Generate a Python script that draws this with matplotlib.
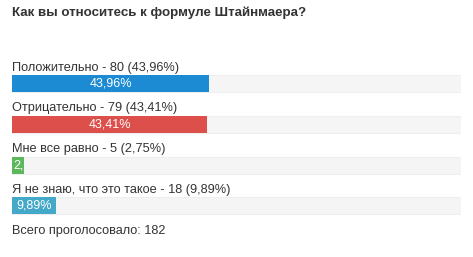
import matplotlib
matplotlib.use("Agg")
import matplotlib.pyplot as plt
from matplotlib.transforms import offset_copy

plt.rcParams['font.family'] = ['Liberation Sans', 'DejaVu Sans']

title = "Как вы относитесь к формуле Штайнмаера?"
options = ["Положительно", "Отрицательно", "Мне все равно", "Я не знаю, что это такое"]
votes = [80, 79, 5, 18]
percents = [43.96, 43.41, 2.75, 9.89]
total = 182
colors = ["#1c8bd3", "#dc4f4b", "#5cb85c", "#44a9c9"]

W, H = 473, 257
fig = plt.figure(figsize=(W / 100, H / 100), dpi=100)
fig.patch.set_facecolor("white")

fig.text(12 / W, 1 - 13 / H, title, fontsize=9.6, fontweight="bold",
         color="#333333", va="center", ha="left")

spacing = 40.8
top = 83.5 - spacing / 2
ax = fig.add_axes([12 / W, 1 - (top + 4 * spacing) / H, 449 / W, 4 * spacing / H])
ax.set_xlim(0, 100)
ax.set_ylim(3.5, -0.5)
ax.axis("off")

ys = list(range(len(options)))
bh = 17 / spacing
ax.barh(ys, [100] * len(ys), height=bh, color="#f5f5f5", edgecolor="#ececec", linewidth=0.6)
bars = ax.barh(ys, percents, height=bh, color=colors, edgecolor="none")

fmt = lambda v: f"{v:.2f}".replace(".", ",")
for y, opt, v, p, bar in zip(ys, options, votes, percents, bars):
    lab_tr = offset_copy(ax.transData, fig=fig, x=0, y=16, units="dots")
    ax.text(0, y, f"{opt} - {v} ({fmt(p)}%)", transform=lab_tr, fontsize=9.2,
            color="#333333", ha="left", va="center")
    t = ax.text(p / 2 if p > 5 else 0.2, y, f"{fmt(p)}%", fontsize=9.0, color="white",
                ha="center" if p > 5 else "left", va="center")
    t.set_clip_on(True)
    t.set_clip_path(bar)

tot_tr = offset_copy(ax.transData, fig=fig, x=0, y=-25, units="dots")
ax.text(0, 3, f"Всего проголосовало: {total}", transform=tot_tr, fontsize=9.2,
        color="#333333", ha="left", va="center")

fig.savefig("out.png", dpi=100, facecolor="white")
